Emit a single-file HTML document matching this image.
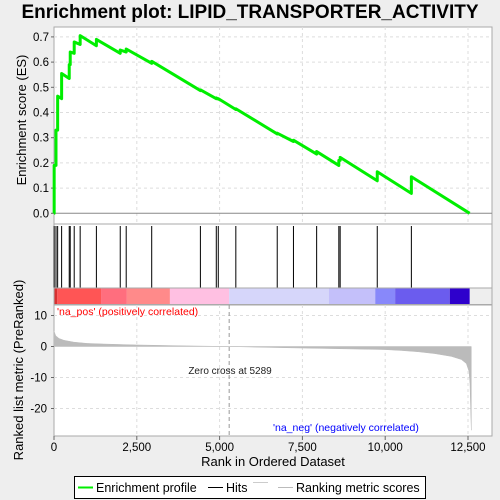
<!DOCTYPE html>
<html><head><meta charset="utf-8"><style>
body{margin:0;background:#eeeeee;}
svg{display:block;font-family:"Liberation Sans",sans-serif;}
</style></head><body>
<svg width="500" height="500">
<rect x="0" y="0" width="500" height="500" fill="#eeeeee"/>
<text x="250" y="18" text-anchor="middle" font-size="19" font-weight="bold" fill="#000">Enrichment plot: LIPID_TRANSPORTER_ACTIVITY</text>
<g id="es-panel"></g>
<g id="hits-panel"></g>
<g id="metric-panel"></g>
<text transform="translate(26,120) rotate(-90)" text-anchor="middle" font-size="13">Enrichment score (ES)</text>
<text transform="translate(23,370) rotate(-90)" text-anchor="middle" font-size="13">Ranked list metric (PreRanked)</text>
<text x="273" y="466" text-anchor="middle" font-size="13">Rank in Ordered Dataset</text>
<g>
<rect x="74.5" y="476.5" width="351" height="22" fill="#fff" stroke="#000"/>
<line x1="78" y1="487.5" x2="93" y2="487.5" stroke="#00ee00" stroke-width="2"/>
<text x="96" y="492" font-size="12.5">Enrichment profile</text>
<line x1="208" y1="487.5" x2="223" y2="487.5" stroke="#000" stroke-width="1"/>
<text x="226" y="492" font-size="12.5">Hits</text>
<line x1="253" y1="482.5" x2="268" y2="482.5" stroke="#ccc"/>
<line x1="278" y1="487.5" x2="293" y2="487.5" stroke="#bbb"/>
<text x="296" y="492" font-size="12.5">Ranking metric scores</text>
</g>
</svg>
<script>
const hitRanks=[5,60,110,230,460,490,610,790,1280,2000,2180,2950,4420,4900,4960,5490,6740,7230,7930,8600,8640,9760,10790];
const esBefore=[0,0.19,0.33,0.455,0.535,0.59,0.635,0.67,0.665,0.635,0.64,0.595,0.487,0.455,0.453,0.412,0.315,0.285,0.235,0.19,0.21,0.129,0.079];
const esAfter=[0.19,0.33,0.465,0.555,0.59,0.64,0.68,0.705,0.69,0.648,0.652,0.603,0.49,0.458,0.455,0.415,0.318,0.29,0.245,0.21,0.222,0.165,0.145];
const maxRank=12550;
const esTicks=[0,0.1,0.2,0.3,0.4,0.5,0.6,0.7];
const xTicks=[0,2500,5000,7500,10000,12500];
const xTickLabels=["0","2,500","5,000","7,500","10,000","12,500"];
const metricRanks=[0,50,150,300,600,1000,1500,2500,4000,5289,6500,7500,8500,9500,10000,10500,11000,11500,12000,12300,12450,12530,12560,12580,12600];
const metricVals=[5,3.5,2.6,2,1.4,1,0.8,0.5,0.2,0,-0.3,-0.5,-0.7,-0.9,-1,-1.3,-1.7,-2.3,-3.2,-4.2,-5.5,-8,-12,-20,-27];
const metricTicks=[10,0,-10,-20];
const barBounds=[0,100,1420,2200,3500,5289,8300,9700,10300,11950,12550];
const barColors=["#d83030","#ff5555","#ff6e7e","#ff8a8a","#ffc0e2","#d6d6fa","#c4c0fa","#8888fa","#6b5cee","#2e00cc"];
const zeroCross=5289;

const NS="http://www.w3.org/2000/svg";
const X0=54,X1=492,XR=468;
const xs=r=>X0+r*(XR-X0)/12500;
const esY=v=>213.3-v*252;
const mY=v=>346.5-v*3.1;
function mk(tag,attrs,parent){const e=document.createElementNS(NS,tag);for(const k in attrs)e.setAttribute(k,attrs[k]);parent.appendChild(e);return e;}
const esG=document.getElementById('es-panel');
const hitG=document.getElementById('hits-panel');
const mG=document.getElementById('metric-panel');

// ES panel
mk('rect',{x:X0,y:27,width:X1-X0,height:197,fill:'#fff',stroke:'#aaa'},esG);
esTicks.forEach(t=>{
  if(t>0){const g=mk('line',{x1:X0,x2:X1,y1:esY(t),y2:esY(t),stroke:'#ddd','stroke-dasharray':'3,3'},esG);
  }
  const tx=mk('text',{x:X0-5,y:esY(t)+4,'text-anchor':'end','font-size':'11.5'},esG);tx.textContent=t.toFixed(1);
  
  mk('line',{x1:X0-3,x2:X0,y1:esY(t),y2:esY(t),stroke:'#666'},esG);
});
xTicks.forEach(t=>{if(t>0)mk('line',{x1:xs(t),x2:xs(t),y1:27,y2:224,stroke:'#ddd','stroke-dasharray':'3,3'},esG);});
mk('line',{x1:X0,x2:X1,y1:esY(0),y2:esY(0),stroke:'#888'},esG);
let pts=[[xs(0),esY(0)]];
hitRanks.forEach((r,i)=>{pts.push([xs(r),esY(esBefore[i])]);pts.push([xs(r),esY(esAfter[i])]);});
pts.push([xs(maxRank),esY(0)]);
const pl=mk('polyline',{points:pts.map(p=>p.join(',')).join(' '),fill:'none',stroke:'#00ee00','stroke-width':3,'stroke-linejoin':'round'},esG);


// Hits panel
mk('rect',{x:X0,y:224,width:X1-X0,height:64,fill:'#fff',stroke:'#aaa'},hitG);
hitRanks.forEach(r=>{const l=mk('line',{x1:xs(r),x2:xs(r),y1:226,y2:288,stroke:'#000','stroke-width':1},hitG);
  });
barColors.forEach((c,i)=>{const b=mk('rect',{x:xs(barBounds[i]),y:288,width:xs(barBounds[i+1])-xs(barBounds[i]),height:16.5,fill:c},hitG);
  });
mk('rect',{x:X0,y:288,width:X1-X0,height:16.5,fill:'none',stroke:'#aaa'},hitG);

// Metric panel
mk('rect',{x:X0,y:305,width:X1-X0,height:131,fill:'#fff',stroke:'#aaa'},mG);
metricTicks.forEach(t=>{
  if(t!==0)mk('line',{x1:X0,x2:X1,y1:mY(t),y2:mY(t),stroke:'#ddd','stroke-dasharray':'3,3'},mG);
  const tx=mk('text',{x:X0-7,y:mY(t)+4,'text-anchor':'end','font-size':'11.5'},mG);tx.textContent=String(t);
  
  mk('line',{x1:X0-3,x2:X0,y1:mY(t),y2:mY(t),stroke:'#666'},mG);
});
xTicks.forEach((t,i)=>{
  if(t>0)mk('line',{x1:xs(t),x2:xs(t),y1:305,y2:436,stroke:'#ddd','stroke-dasharray':'3,3'},mG);
  mk('line',{x1:xs(t),x2:xs(t),y1:436,y2:440,stroke:'#666'},mG);
  const tx=mk('text',{x:xs(t),y:451,'text-anchor':'middle','font-size':'11.5'},mG);tx.textContent=xTickLabels[i];
  
});
let mp=[[xs(0),mY(0)]];
metricRanks.forEach((r,i)=>mp.push([xs(r),mY(metricVals[i])]));
mp.push([xs(metricRanks[metricRanks.length-1]),mY(0)]);
const area=mk('polygon',{points:mp.map(p=>p.join(',')).join(' '),fill:'#bbbbbb',stroke:'#bbbbbb','stroke-width':0.5},mG);

const zl=mk('line',{x1:xs(zeroCross),x2:xs(zeroCross),y1:305,y2:436,stroke:'#999','stroke-dasharray':'4,3'},mG);

const zt=mk('text',{x:230,y:374,'text-anchor':'middle','font-size':'10','fill':'#222'},mG);zt.textContent='Zero cross at '+zeroCross;

const pos=mk('text',{x:57,y:315,'font-size':'10.5','fill':'#ff0000'},mG);pos.textContent="'na_pos' (positively correlated)";

const neg=mk('text',{x:273,y:431,'font-size':'10.5','fill':'#0000ff'},mG);neg.textContent="'na_neg' (negatively correlated)";

</script>
</body></html>
